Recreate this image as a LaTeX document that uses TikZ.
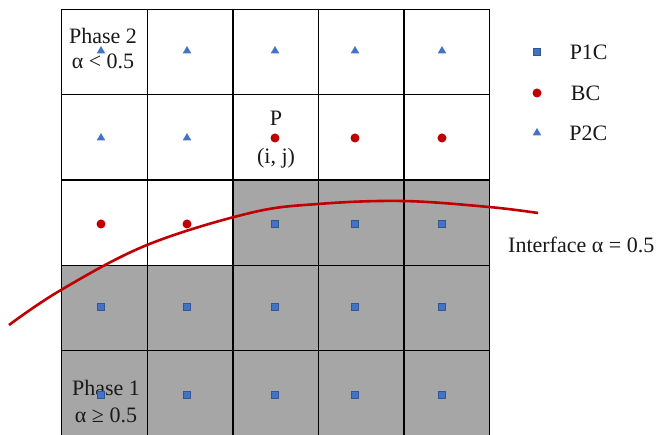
\documentclass[tikz,border=0pt]{standalone}
\usepackage{fontspec}
\setmainfont{Liberation Serif}
\usetikzlibrary{shapes.geometric,positioning}
\definecolor{cellgray}{HTML}{A6A6A6}
\definecolor{markblue}{HTML}{4472C4}
\definecolor{markred}{HTML}{C00000}
\tikzset{
  cell/.style={draw=black, line width=1.3pt, minimum width=85.6pt, minimum height=85.2pt,
    inner sep=0pt, anchor=north west},
  wetcell/.style={cell, fill=cellgray},
  pone/.style={rectangle, fill=markblue, draw=markblue!75!black, line width=0.6pt,
    minimum size=6.5pt, inner sep=0pt},
  bnd/.style={circle, fill=markred, minimum size=9pt, inner sep=0pt},
  ptwo/.style={regular polygon, regular polygon sides=3, fill=markblue,
    minimum size=10pt, inner sep=0pt},
  lbl/.style={font=\fontsize{22}{25}\selectfont, text=black!90, inner sep=0pt, align=center},
  iface/.style={draw=markred, line width=2.6pt},
}

\begin{document}
\begin{tikzpicture}[x=1pt, y=-1pt]
\useasboundingbox (0,0) rectangle (665,435);
% grid
\foreach \r in {1,...,5}
  \foreach \c in {1,...,5}{
    \pgfmathtruncatemacro{\wet}{(\r>3)||((\r==3)&&(\c>2)) ? 1 : 0}
    \ifnum\wet=1
      \node[wetcell] (c\r\c) at ({61+(\c-1)*85.6},{9+(\r-1)*85.2}) {};
    \else
      \node[cell] (c\r\c) at ({61+(\c-1)*85.6},{9+(\r-1)*85.2}) {};
    \fi
  }
% texts in cells
\node[lbl] (ph2) at (103,49) {Phase 2\\α < 0.5};
\node[lbl] (ph1) at (106,402) {Phase 1\\[2pt]α ≥ 0.5};
\node[lbl] (pname) at (276,118) {P};
\node[lbl] (pidx) at (276,158) {(i, j)};
% markers
\foreach \r/\my in {1/51,2/138,3/224,4/307,5/395}
  \foreach \c/\mx in {1/101,2/187,3/275,4/355,5/442}{
    \pgfmathtruncatemacro{\kind}{\r+(\c>2 ? 1 : 0)}
    \ifnum\kind<3
      \node[ptwo] (m\r\c) at (\mx,\my) {};
    \else\ifnum\kind=3
      \node[bnd] (m\r\c) at (\mx,\my) {};
    \else
      \node[pone] (m\r\c) at (\mx,\my) {};
    \fi\fi
  }
% interface
\draw[iface] plot[smooth, tension=0.6] coordinates
  {(9,325) (61,290) (147,245) (250,213) (318,204) (403,201) (489,207) (538,213)};
\node[lbl, anchor=west] (ifl) at (508,245) {Interface α = 0.5};
% legend
\node[pone] (k1) at (537,52) {};
\node[bnd] (k2) at (537,93) {};
\node[ptwo] (k3) at (537,133) {};
\node[lbl, right=29pt of k1] (t1) {P1C};
\node[lbl, right=29pt of k2] (t2) {BC};
\node[lbl, right=29pt of k3] (t3) {P2C};
\end{tikzpicture}
\end{document}
